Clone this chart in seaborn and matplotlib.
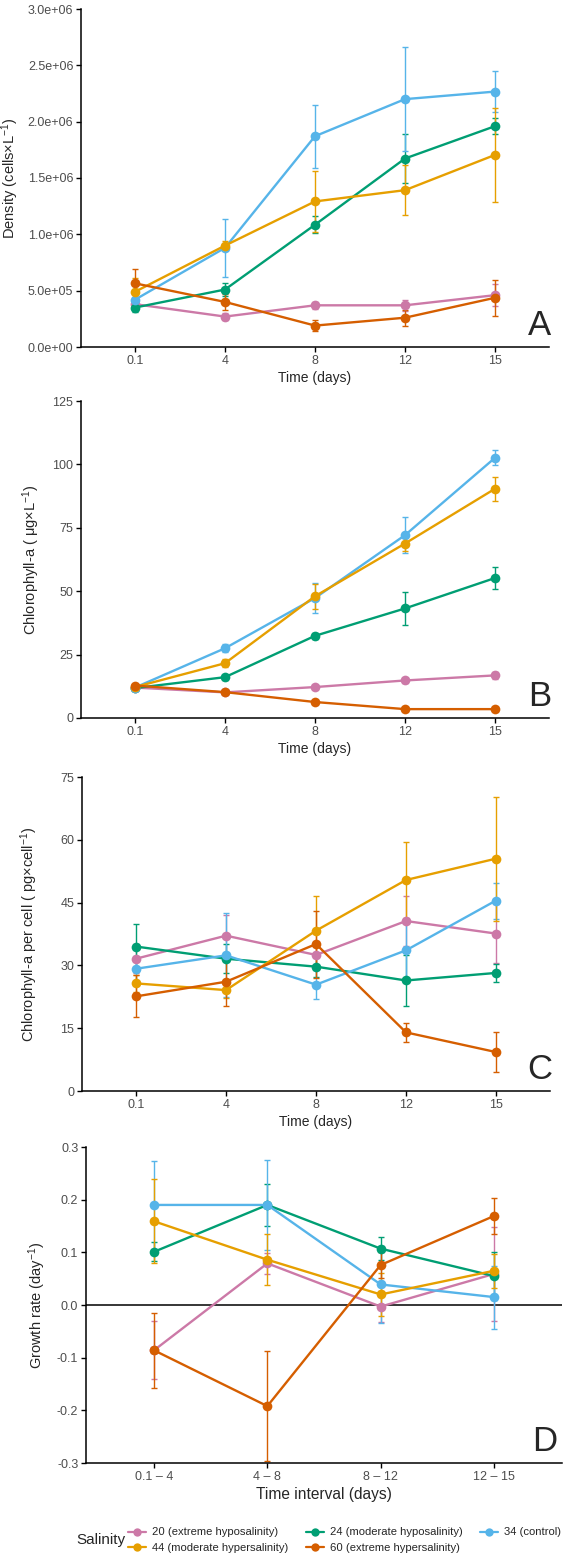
import numpy as np
import pandas as pd
import seaborn as sns
import matplotlib.pyplot as plt
from matplotlib.lines import Line2D
from matplotlib.ticker import FixedLocator, FuncFormatter

# categories
times = ['0.1', '4', '8', '12', '15']
intervals = ['0.1 \u2013 4', '4 \u2013 8', '8 \u2013 12', '12 \u2013 15']
salinity = ['20', '24', '34', '44', '60']
salinity_labels = ['20 (extreme hyposalinity)', '24 (moderate hyposalinity)', '34 (control)',
                   '44 (moderate hypersalinity)', '60 (extreme hypersalinity)']
colors = ['#CC79A7', '#009E73', '#56B4E9', '#E69F00', '#D55E00']

# A - cell density (cells per L), mean and error
dens_20 = [3.8e5, 2.7e5, 3.7e5, 3.7e5, 4.6e5]
dens_24 = [3.5e5, 5.1e5, 1.085e6, 1.673e6, 1.96e6]
dens_34 = [4.2e5, 8.8e5, 1.871e6, 2.20e6, 2.267e6]
dens_44 = [4.9e5, 9.0e5, 1.292e6, 1.392e6, 1.705e6]
dens_60 = [5.65e5, 4.0e5, 1.9e5, 2.6e5, 4.37e5]
dens_err_20 = [3e4, 3e4, 3e4, 5e4, 1.0e5]
dens_err_24 = [4e4, 6e4, 7.5e4, 2.2e5, 7e4]
dens_err_34 = [5e4, 2.6e5, 2.8e5, 4.6e5, 1.8e5]
dens_err_44 = [1.2e5, 4e4, 2.7e5, 2.2e5, 4.2e5]
dens_err_60 = [1.3e5, 7e4, 5e4, 7e4, 1.6e5]

# B - chlorophyll-a (ug per L)
chl_20 = [12.0, 10.1, 12.2, 14.8, 16.8]
chl_24 = [11.8, 16.1, 32.4, 43.2, 55.2]
chl_34 = [12.0, 27.5, 47.3, 72.1, 102.6]
chl_44 = [12.2, 21.6, 48.0, 68.8, 90.4]
chl_60 = [12.8, 10.2, 6.3, 3.5, 3.5]
chl_err_20 = [0.8, 0.8, 0.8, 1.0, 1.5]
chl_err_24 = [0.8, 1.0, 1.2, 6.5, 4.5]
chl_err_34 = [0.8, 1.5, 6.0, 7.0, 3.0]
chl_err_44 = [0.8, 1.5, 5.0, 3.0, 4.7]
chl_err_60 = [0.5, 0.8, 0.6, 0.4, 0.4]

# C - chlorophyll-a per cell (pg per cell)
cell_20 = [31.6, 37.1, 32.5, 40.6, 37.6]
cell_24 = [34.5, 31.6, 29.7, 26.4, 28.2]
cell_34 = [29.2, 32.4, 25.4, 33.6, 45.5]
cell_44 = [25.7, 24.1, 38.3, 50.4, 55.5]
cell_60 = [22.6, 26.1, 35.1, 14.0, 9.3]
cell_err_20 = [3.5, 5.0, 3.0, 6.0, 7.0]
cell_err_24 = [5.5, 3.5, 2.5, 6.0, 2.2]
cell_err_34 = [3.0, 10.0, 3.4, 7.0, 4.3]
cell_err_44 = [2.0, 2.0, 8.3, 9.0, 14.8]
cell_err_60 = [5.0, 5.8, 8.0, 2.3, 4.7]

# D - growth rate (per day) by interval
gr_20 = [-0.086, 0.079, -0.003, 0.059]
gr_24 = [0.101, 0.190, 0.107, 0.055]
gr_34 = [0.190, 0.190, 0.039, 0.015]
gr_44 = [0.159, 0.086, 0.020, 0.065]
gr_60 = [-0.086, -0.192, 0.076, 0.169]
gr_err_20 = [0.055, 0.020, 0.030, 0.090]
gr_err_24 = [0.018, 0.040, 0.022, 0.045]
gr_err_34 = [0.083, 0.085, 0.073, 0.060]
gr_err_44 = [0.080, 0.048, 0.040, 0.032]
gr_err_60 = [0.071, 0.104, 0.025, 0.035]


def make_long(cats, means, errs):
    rows = []
    for s, m_list, e_list in zip(salinity, means, errs):
        for i, (m, e) in enumerate(zip(m_list, e_list)):
            rows.append({'pos': i, 'cat': cats[i], 'salinity': s, 'mean': m, 'err': e})
    return pd.DataFrame(rows)


df_a = make_long(times, [dens_20, dens_24, dens_34, dens_44, dens_60],
                 [dens_err_20, dens_err_24, dens_err_34, dens_err_44, dens_err_60])
df_b = make_long(times, [chl_20, chl_24, chl_34, chl_44, chl_60],
                 [chl_err_20, chl_err_24, chl_err_34, chl_err_44, chl_err_60])
df_c = make_long(times, [cell_20, cell_24, cell_34, cell_44, cell_60],
                 [cell_err_20, cell_err_24, cell_err_34, cell_err_44, cell_err_60])
df_d = make_long(intervals, [gr_20, gr_24, gr_34, gr_44, gr_60],
                 [gr_err_20, gr_err_24, gr_err_34, gr_err_44, gr_err_60])

sns.set_theme(style="ticks")
plt.rcParams['font.family'] = ['Liberation Sans', 'DejaVu Sans']
plt.rcParams['mathtext.default'] = 'regular'

palette = dict(zip(salinity, colors))
tick_grey = '#4D4D4D'

fig = plt.figure(figsize=(5.66, 15.6), dpi=100)
W, H = 566, 1560


def box(left, right, top, bottom):
    return [left / W, 1 - bottom / H, (right - left) / W, (bottom - top) / H]


# ylabel x is where the right edge of the rotated label sits (axes fraction)
panels = [
    (df_a, times, box(81, 549, 9, 347), (0, 3.0e6), np.arange(0, 3.01e6, 5e5),
     lambda v, p: '{:.1e}'.format(v), 'Density (cells$\\times$L$^{-1}$)', -0.128, 'Time (days)', 10, 'A'),
    (df_b, times, box(81, 549, 401, 718), (0, 125), np.arange(0, 126, 25),
     lambda v, p: '{:.0f}'.format(v), 'Chlorophyll-a ( \u03bcg$\\times$L$^{-1}$)', -0.083, 'Time (days)', 10, 'B'),
    (df_c, times, box(82, 550, 777, 1091), (0, 75), np.arange(0, 76, 15),
     lambda v, p: '{:.0f}'.format(v), 'Chlorophyll-a per cell ( pg$\\times$cell$^{-1}$)', -0.090, 'Time (days)', 10, 'C'),
    (df_d, intervals, box(86, 562, 1147, 1463), (-0.3, 0.3), np.arange(-0.3, 0.31, 0.1),
     lambda v, p: '{:.1f}'.format(v), 'Growth rate (day$^{-1}$)', -0.080, 'Time interval (days)', 11.2, 'D'),
]

for df, cats, rect, ylim, yticks, fmt, ylab, ylab_x, xlab, xlab_size, letter in panels:
    ax = fig.add_axes(rect)
    if letter == 'D':
        ax.axhline(0, color='black', linewidth=1.1, zorder=1)
    for s in salinity:
        sub = df[df['salinity'] == s]
        ax.errorbar(sub['pos'], sub['mean'], yerr=sub['err'], fmt='none',
                    ecolor=palette[s], elinewidth=1.0, capsize=2, capthick=1.0, zorder=2)
    sns.lineplot(data=df, x='pos', y='mean', hue='salinity', hue_order=salinity,
                 palette=palette, marker='o', markersize=7, markeredgewidth=0,
                 linewidth=1.7, legend=False, ax=ax, zorder=3)
    n = len(cats)
    ax.set_xlim(-0.6, n - 1 + 0.6)
    ax.set_ylim(*ylim)
    ax.xaxis.set_major_locator(FixedLocator(np.arange(n)))
    ax.set_xticklabels(cats)
    ax.yaxis.set_major_locator(FixedLocator(yticks))
    ax.yaxis.set_major_formatter(FuncFormatter(fmt))
    ax.tick_params(axis='both', labelsize=9, colors='black', labelcolor=tick_grey,
                   length=3.5, width=1.0, pad=2)
    sns.despine(ax=ax)
    for sp in ['left', 'bottom']:
        ax.spines[sp].set_linewidth(1.1)
        ax.spines[sp].set_color('black')
    ax.set_xlabel(xlab, fontsize=xlab_size, labelpad=3)
    ax.set_ylabel(ylab, fontsize=10.5)
    ax.yaxis.set_label_coords(ylab_x, 0.5)
    ax.text(1.005 if letter != 'D' else 0.99, 0.015, letter, transform=ax.transAxes,
            ha='right', va='bottom', fontsize=25)

# legend at the bottom, filled column-wise so rows read 20, 24, 34 / 44, 60
order = [0, 3, 1, 4, 2]
handles = [Line2D([], [], color=colors[i], marker='o', markersize=6, markeredgewidth=0,
                  linewidth=1.6) for i in order]
labels = [salinity_labels[i] for i in order]
fig.legend(handles, labels, ncol=3, frameon=False, fontsize=8.1,
           loc='center left', bbox_to_anchor=(128 / W, 1 - 1540 / H),
           handlelength=1.6, handletextpad=0.5, columnspacing=1.6,
           labelspacing=0.45, borderaxespad=0, borderpad=0)
fig.text(101 / W, 1 - 1540 / H, 'Salinity', ha='center', va='center', fontsize=11)

plt.savefig('out.png', dpi=100)
